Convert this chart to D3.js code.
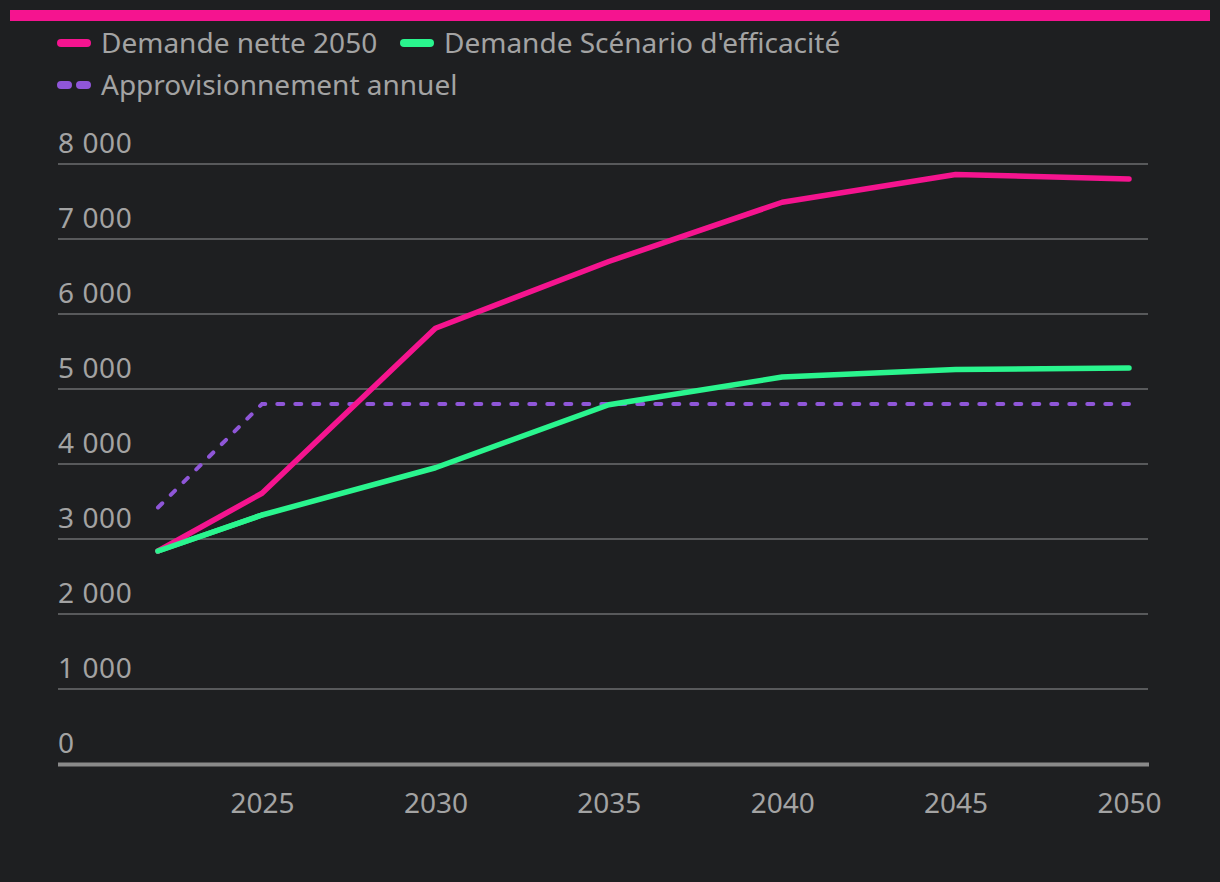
<!DOCTYPE html>
<html>
<head>
<meta charset="utf-8">
<script src="https://cdn.jsdelivr.net/npm/d3@7"></script>
<style>
    body { margin: 0; background: #1e1f21; }
    text { font-family: "Noto Sans", sans-serif; fill: #a3a3a3; }
</style>
</head>
<body>
<div id="chart"></div>
<script>
// data
const years = [2022, 2025, 2030, 2035, 2040, 2045, 2050];
const demandeNette = [2840, 3610, 5810, 6700, 7490, 7860, 7800];
const demandeEfficacite = [2840, 3320, 3950, 4790, 5160, 5260, 5280];
const approvisionnement = [3420, 4800, 4800, 4800, 4800, 4800, 4800];
const yTicks = [0, 1000, 2000, 3000, 4000, 5000, 6000, 7000, 8000];
const xTicks = [2025, 2030, 2035, 2040, 2045, 2050];

const seriesNames = ['Demande nette 2050', 'Demande Scénario d\'efficacité', 'Approvisionnement annuel'];
const colors = ['#f5148f', '#2af58e', '#8f56d8'];

const width = 1220;
const height = 882;
const plotLeft = 58;
const plotRight = 1149;

const svg = d3.select('#chart')
    .append('svg')
    .attr('width', width)
    .attr('height', height);

svg.append('rect')
    .attr('width', width)
    .attr('height', height)
    .attr('fill', '#1e1f21');

// pink bar at the top
svg.append('rect')
    .attr('x', 10)
    .attr('y', 10)
    .attr('width', 1200)
    .attr('height', 11)
    .attr('fill', colors[0]);

const x = d3.scaleLinear().domain([2022, 2050]).range([158, 1129]);
const y = d3.scaleLinear().domain([0, 8000]).range([764, 164]);

const fmt = d => d3.format(',')(d).replace(/,/g, ' ');

// gridlines + y labels
yTicks.forEach(t => {
    if (t > 0) {
        svg.append('line')
            .attr('x1', plotLeft)
            .attr('x2', plotRight - 1)
            .attr('y1', y(t))
            .attr('y2', y(t))
            .attr('stroke', '#58595b')
            .attr('stroke-width', 2);
    }
    svg.append('text')
        .attr('x', plotLeft)
        .attr('y', y(t) - 11)
        .style('font-size', '28px')
        .style('letter-spacing', '0.6px')
        .text(fmt(t));
});

// baseline
svg.append('line')
    .attr('x1', plotLeft)
    .attr('x2', plotRight)
    .attr('y1', y(0) + 0.5)
    .attr('y2', y(0) + 0.5)
    .attr('stroke', '#8a8a8a')
    .attr('stroke-width', 4);

// x axis labels
const xAxis = svg.append('g')
    .attr('transform', `translate(0, ${y(0) + 29})`)
    .call(d3.axisBottom(x).tickValues(xTicks).tickFormat(d3.format('d')).tickSize(0).tickPadding(0));
xAxis.select('.domain').remove();
xAxis.selectAll('text')
    .attr('dy', '0.71em')
    .attr('fill', null)
    .style('font-size', '28px')
    .style('font-family', '"Noto Sans", sans-serif');

const line = d3.line()
    .x((d, i) => x(years[i]))
    .y(d => y(d));

svg.append('path')
    .datum(approvisionnement)
    .attr('d', line)
    .attr('fill', 'none')
    .attr('stroke', colors[2])
    .attr('stroke-width', 4)
    .attr('stroke-linecap', 'round')
    .attr('stroke-dasharray', '6,12');

svg.append('path')
    .datum(demandeEfficacite)
    .attr('d', line)
    .attr('fill', 'none')
    .attr('stroke', colors[1])
    .attr('stroke-width', 5.5)
    .attr('stroke-linecap', 'round')
    .attr('stroke-linejoin', 'round');

svg.append('path')
    .datum(demandeNette)
    .attr('d', line)
    .attr('fill', 'none')
    .attr('stroke', colors[0])
    .attr('stroke-width', 5.5)
    .attr('stroke-linecap', 'round')
    .attr('stroke-linejoin', 'round');

// re-draw the green start so it sits on top like the reference
svg.append('path')
    .datum(demandeEfficacite.slice(0, 2))
    .attr('d', line)
    .attr('fill', 'none')
    .attr('stroke', colors[1])
    .attr('stroke-width', 5.5)
    .attr('stroke-linecap', 'round');

// legend
const legendItems = [
    { x: 57, y: 43, dashed: false },
    { x: 400, y: 43, dashed: false },
    { x: 57, y: 85, dashed: true }
];
legendItems.forEach((item, i) => {
    const g = svg.append('g').attr('transform', `translate(${item.x}, ${item.y})`);
    g.append('line')
        .attr('x1', 4).attr('x2', 30)
        .attr('stroke', colors[i])
        .attr('stroke-width', 8)
        .attr('stroke-linecap', 'round')
        .attr('stroke-dasharray', item.dashed ? '7,12' : null);
    g.append('text')
        .attr('x', 44)
        .attr('y', 10)
        .style('font-size', '28px')
        .text(seriesNames[i]);
});
</script>
</body>
</html>
